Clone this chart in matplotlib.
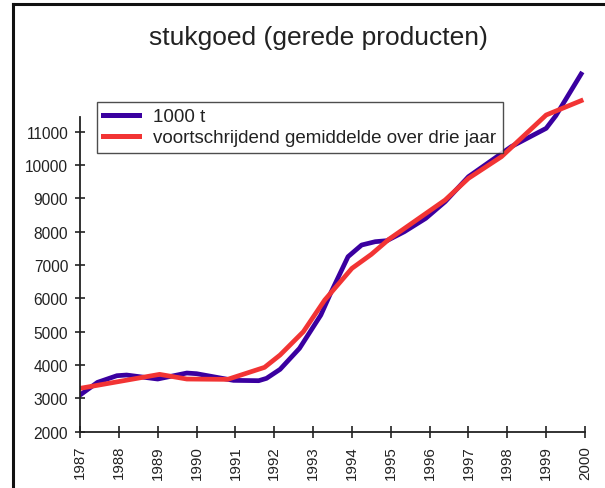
import matplotlib
matplotlib.use("Agg")
import matplotlib.pyplot as plt
from matplotlib.lines import Line2D

plt.rcParams['font.family'] = ['Liberation Sans', 'DejaVu Sans']

# values (1000 t)
blue_years = [1987.0, 1987.45, 1987.95, 1988.2, 1989.0, 1989.75, 1990.0, 1990.95,
              1991.6, 1991.8, 1992.15, 1992.65, 1993.2, 1993.45, 1993.9, 1994.25,
              1994.6, 1994.9, 1995.35, 1995.9, 1996.4, 1997.0, 1998.1, 1999.0,
              1999.25, 1999.9]
blue_vals = [3100, 3480, 3680, 3700, 3580, 3760, 3740, 3540,
             3530, 3600, 3870, 4500, 5500, 6150, 7250, 7600,
             7700, 7730, 8000, 8400, 8900, 9650, 10550, 11100,
             11480, 12730]

red_years = [1987.0, 1989.05, 1989.75, 1990.8, 1991.75, 1992.15, 1992.75, 1993.3,
             1994.0, 1994.5, 1994.95, 1996.4, 1997.0, 1997.85, 1999.0, 1999.9]
red_vals = [3300, 3720, 3580, 3570, 3930, 4300, 5000, 5950,
            6900, 7320, 7770, 8950, 9600, 10250, 11500, 11930]

xticks = list(range(1987, 2001))
yticks = list(range(2000, 12000, 1000))
title = "stukgoed (gerede producten)"
labels = ["1000 t", "voortschrijdend gemiddelde over drie jaar"]

txt = '#222222'
fig = plt.figure(figsize=(6.05, 4.89), dpi=100)
ax = fig.add_axes([80/605, 1 - 432.7/489, 505/605, (432.7 - 66)/489])

ax.plot(blue_years, blue_vals, color='#3a00a0', lw=3.4, solid_joinstyle='round', label=labels[0])
ax.plot(red_years, red_vals, color='#f23434', lw=3.4, solid_joinstyle='round', label=labels[1])

ax.set_xlim(1987, 2000)
ax.set_ylim(2000, 13000)
ax.set_xticks(xticks)
ax.set_xticklabels([str(x) for x in xticks], rotation=90, fontsize=10.8, color=txt)
ax.set_yticks(yticks)
ax.set_yticklabels([str(y) for y in yticks], fontsize=11.2, color=txt)
ax.tick_params(axis='both', direction='inout', width=1.2, color=txt)
ax.tick_params(axis='y', length=7, pad=5)
ax.tick_params(axis='x', length=9, pad=5)
for s in ['top', 'right']:
    ax.spines[s].set_visible(False)
for s in ['left', 'bottom']:
    ax.spines[s].set_color(txt)
    ax.spines[s].set_linewidth(1.3)
ax.spines['left'].set_bounds(2000, 11450)

fig.text(318/605, 1 - 38/489, title, ha='center', va='center', fontsize=19, color=txt)

leg = ax.legend(loc='upper left', bbox_to_anchor=(96.7/605, 1 - 102.7/489),
                bbox_transform=fig.transFigure, fontsize=13.5, frameon=True,
                fancybox=False, edgecolor=txt, handlelength=1.9, handletextpad=0.75,
                borderpad=0.35, labelspacing=0.2, borderaxespad=0)
leg.get_frame().set_linewidth(1.0)
for t in leg.get_texts():
    t.set_color(txt)
for h in leg.get_lines():
    h.set_linewidth(3.6)

# border around the picture
fig.add_artist(Line2D([13/605, 13/605], [0, 1 - 5/489], color='#111111', lw=2.2))
fig.add_artist(Line2D([13/605, 1], [1 - 5/489, 1 - 5/489], color='#111111', lw=2.2))

fig.savefig('out.png', dpi=100)
